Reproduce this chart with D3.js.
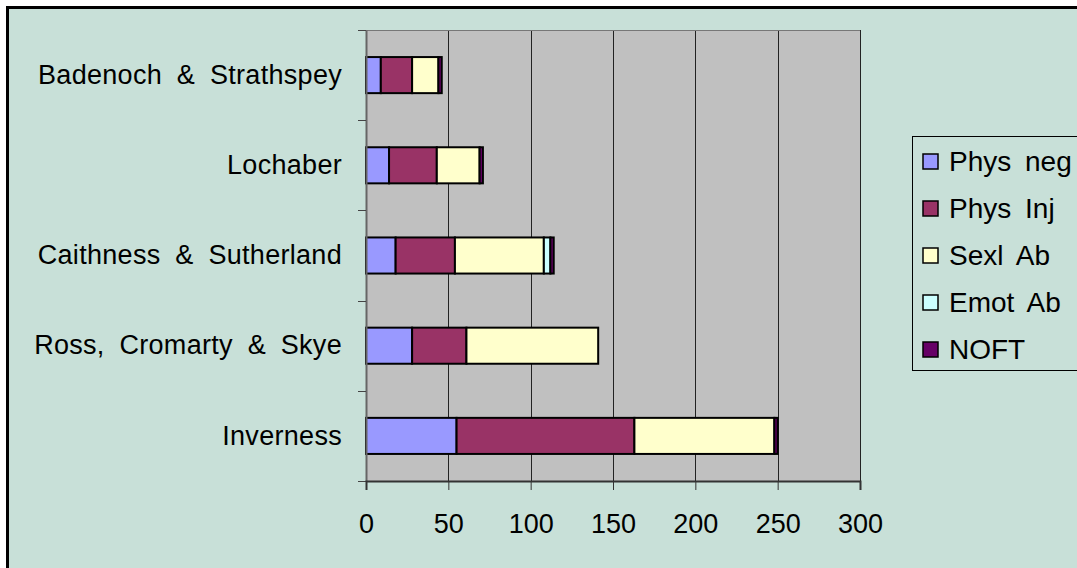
<!DOCTYPE html>
<html>
<head>
<meta charset="utf-8">
<script src="https://cdn.jsdelivr.net/npm/d3@7"></script>
<style>
  body { margin: 0; background: #fff; }
  svg { display: block; font-family: "Liberation Sans", Arial, sans-serif; }
</style>
</head>
<body>
<svg id="chart" width="1077" height="568"></svg>
<script>
// areas, top to bottom
var areas = ["Badenoch & Strathspey", "Lochaber", "Caithness & Sutherland", "Ross, Cromarty & Skye", "Inverness"];
var series = ["Phys neg", "Phys Inj", "Sexl Ab", "Emot Ab", "NOFT"];
var colors = ["#9999FF", "#993366", "#FFFFCC", "#CCFFFF", "#660066"];

var physNeg = [9, 14, 18, 28, 55];
var physInj = [19, 29, 36, 33, 108];
var sexlAb  = [16, 26, 54, 80, 85];
var emotAb  = [0, 0, 4, 0, 0];
var noft    = [2, 2, 2, 0, 2];

var xTicks = [0, 50, 100, 150, 200, 250, 300];

var svg = d3.select("#chart");

// outer chart area
svg.append("rect")
  .attr("x", 7.5).attr("y", 7.5)
  .attr("width", 1080).attr("height", 570)
  .attr("fill", "#C8E0D8")
  .attr("stroke", "#000")
  .attr("stroke-width", 3);

var plot = {left: 366, top: 30, right: 860, bottom: 481};

var xScale = d3.scaleLinear().domain([0, 300]).range([plot.left, plot.right]);
var yScale = d3.scaleBand().domain(areas).range([plot.top, plot.bottom]).paddingInner(0.6).paddingOuter(0.3);

svg.append("rect")
  .attr("x", plot.left).attr("y", plot.top)
  .attr("width", plot.right - plot.left).attr("height", plot.bottom - plot.top)
  .attr("fill", "#C0C0C0");

// gridlines
svg.append("g")
  .selectAll("line")
  .data(xTicks.slice(1))
  .join("line")
    .attr("x1", d => Math.round(xScale(d)) + 0.5)
    .attr("x2", d => Math.round(xScale(d)) + 0.5)
    .attr("y1", plot.top)
    .attr("y2", plot.bottom)
    .attr("stroke", "#222")
    .attr("stroke-width", 1);

// top edge of plot
svg.append("line")
  .attr("x1", plot.left - 8).attr("x2", plot.right)
  .attr("y1", plot.top + 0.5).attr("y2", plot.top + 0.5)
  .attr("stroke", "#777").attr("stroke-width", 1);

// stacked bars
var rows = areas.map(function(a, i) {
  return {area: a, "Phys neg": physNeg[i], "Phys Inj": physInj[i], "Sexl Ab": sexlAb[i], "Emot Ab": emotAb[i], "NOFT": noft[i]};
});
var stacked = d3.stack().keys(series)(rows);

svg.append("g")
  .selectAll("g")
  .data(stacked)
  .join("g")
    .attr("fill", (d, i) => colors[i])
  .selectAll("rect")
  .data(d => d.filter(s => s[1] > s[0]))
  .join("rect")
    .attr("x", d => xScale(d[0]))
    .attr("y", d => yScale(d.data.area))
    .attr("width", d => xScale(d[1]) - xScale(d[0]))
    .attr("height", yScale.bandwidth())
    .attr("stroke", "#000")
    .attr("stroke-width", 2);

// y axis
var yAxis = svg.append("g")
  .attr("transform", "translate(" + plot.left + ",0)")
  .call(d3.axisLeft(yScale).tickSize(0).tickPadding(24));
yAxis.select(".domain").attr("stroke", "#666").attr("stroke-width", 2);
yAxis.selectAll("text")
  .attr("font-size", 27)
  .attr("font-family", "Liberation Sans, Arial, sans-serif")
  .attr("word-spacing", 7)
  .attr("letter-spacing", 0.3)
  .attr("fill", "#000");

// category boundary ticks
var bounds = d3.range(areas.length + 1).map(i => plot.top + i * (plot.bottom - plot.top) / areas.length);
svg.append("g")
  .selectAll("line")
  .data(bounds)
  .join("line")
    .attr("x1", plot.left - 8).attr("x2", plot.left)
    .attr("y1", d => Math.round(d) + 0.5).attr("y2", d => Math.round(d) + 0.5)
    .attr("stroke", "#444");

// x axis
var xAxis = svg.append("g")
  .attr("transform", "translate(0," + plot.bottom + ")")
  .call(d3.axisBottom(xScale).tickValues(xTicks).tickSize(9).tickPadding(24));
xAxis.select(".domain").attr("stroke", "#333").attr("stroke-width", 2);
xAxis.selectAll(".tick line").attr("stroke", "#333");
xAxis.selectAll("text")
  .attr("font-size", 27)
  .attr("font-family", "Liberation Sans, Arial, sans-serif")
  .attr("fill", "#000");

// legend
var legend = svg.append("g");
legend.append("rect")
  .attr("x", 912.5).attr("y", 136.5)
  .attr("width", 180).attr("height", 234)
  .attr("fill", "none")
  .attr("stroke", "#000")
  .attr("stroke-width", 1);

var items = legend.selectAll("g.item")
  .data(series)
  .join("g")
    .attr("class", "item")
    .attr("transform", (d, i) => "translate(923," + (161 + i * 47) + ")");
items.append("rect")
  .attr("x", 0).attr("y", -7)
  .attr("width", 15).attr("height", 15)
  .attr("fill", (d, i) => colors[i])
  .attr("stroke", "#000")
  .attr("stroke-width", 1.5);
items.append("text")
  .attr("x", 26).attr("y", 0)
  .attr("dy", "0.35em")
  .attr("font-size", 28)
  .attr("word-spacing", 6)
  .attr("fill", "#000")
  .text(d => d);
</script>
</body>
</html>
